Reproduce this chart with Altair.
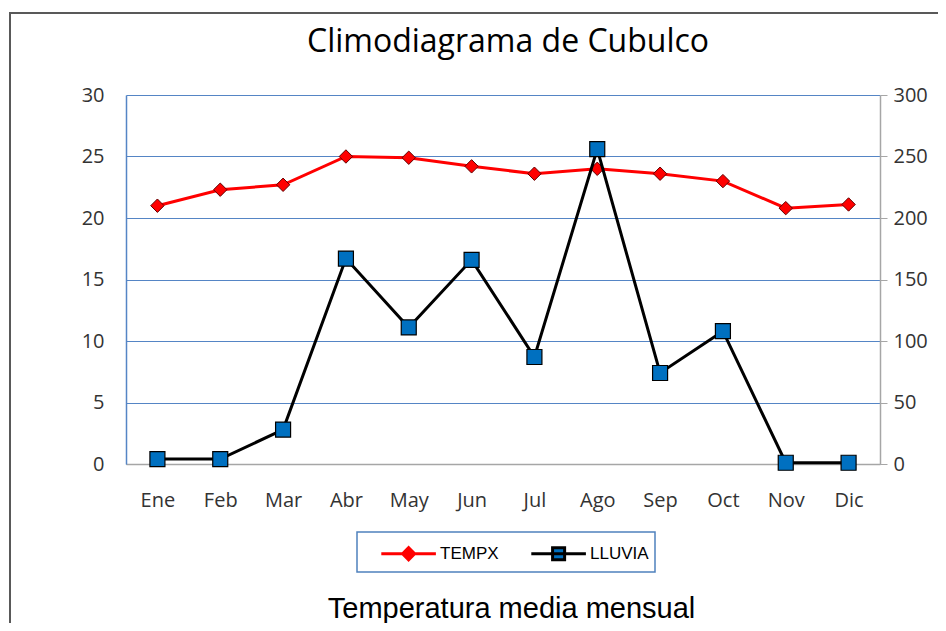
import altair as alt
import pandas as pd

months = ["Ene", "Feb", "Mar", "Abr", "May", "Jun", "Jul", "Ago", "Sep", "Oct", "Nov", "Dic"]
tempx = [21.0, 22.3, 22.7, 25.0, 24.9, 24.2, 23.6, 24.0, 23.6, 23.0, 20.8, 21.1]
lluvia = [4, 4, 28, 167, 111, 166, 87, 256, 74, 108, 1, 1]
series = ["TEMPX", "LLUVIA"]
series_stroke = ["#ff0000", "#000000"]
series_fill = ["#ff0000", "#0070c0"]
legend_shapes = [
    "M0.2,0H4.1M1.72,0L2.15,-0.43L2.58,0L2.15,0.43Z",
    "M0.2,0H4.1M1.72,-0.43H2.58V0.43H1.72Z",
]

df = pd.DataFrame({"mes": months, "temp": tempx, "lluvia": lluvia})
df_leg = pd.DataFrame({"serie": series})

FONT = "Open Sans"
GRID = "#5585c5"
xenc = alt.X(
    "mes:O",
    sort=months,
    axis=alt.Axis(
        title="Temperatura media mensual",
        titleFont="Liberation Sans Narrow, Liberation Sans",
        titleFontSize=29,
        titleFontWeight="normal",
        titleColor="#000000",
        titleBaseline="middle",
        titleAlign="center",
        titleX=385,
        titleY=144,
        labelAngle=0,
        labelFont=FONT,
        labelFontSize=20,
        labelColor="#333333",
        labelPadding=26,
        ticks=False,
        domainColor="#a6a6a6",
        domainWidth=1.5,
    ),
)

y_temp = alt.Y(
    "temp:Q",
    scale=alt.Scale(domain=[0, 30]),
    axis=alt.Axis(
        title=None,
        values=[0, 5, 10, 15, 20, 25, 30],
        grid=True,
        gridColor=GRID,
        gridWidth=1.2,
        ticks=False,
        domainColor=GRID,
        domainWidth=1.5,
        labelFont=FONT,
        labelFontSize=20,
        labelColor="#333333",
        labelPadding=22,
    ),
)

y_rain = alt.Y(
    "lluvia:Q",
    scale=alt.Scale(domain=[0, 300]),
    axis=alt.Axis(
        title=None,
        orient="right",
        values=[0, 50, 100, 150, 200, 250, 300],
        grid=False,
        ticks=True,
        tickSize=7,
        tickColor="#a6a6a6",
        domainColor="#a6a6a6",
        domainWidth=1.5,
        labelFont=FONT,
        labelFontSize=20,
        labelColor="#333333",
        labelPadding=6,
    ),
)

base = alt.Chart(df)

frame = alt.Chart(pd.DataFrame({"k": [0]})).mark_rect(
    filled=False, stroke="#595959", strokeWidth=2
).encode(
    x=alt.value(-116), x2=alt.value(900), y=alt.value(-82), y2=alt.value(700)
)

temp_line = base.mark_line(color="#ff0000", strokeWidth=3).encode(x=xenc, y=y_temp)
temp_pts = base.mark_point(
    shape="diamond", filled=True, fill="#ff0000", stroke="#600000", strokeWidth=1, size=180, opacity=1
).encode(x=alt.X("mes:O", sort=months), y="temp:Q")

legend_layer = alt.Chart(df_leg).mark_point(filled=True, strokeWidth=3, opacity=1).encode(
    shape=alt.Shape("serie:N", scale=alt.Scale(domain=series, range=legend_shapes),
                    legend=alt.Legend(title=None)),
    fill=alt.Fill("serie:N", scale=alt.Scale(domain=series, range=series_fill), legend=alt.Legend(title=None)),
    stroke=alt.Stroke("serie:N", scale=alt.Scale(domain=series, range=series_stroke), legend=alt.Legend(title=None)),
).transform_filter("false")

rain_line = base.mark_line(color="#000000", strokeWidth=3).encode(x=alt.X("mes:O", sort=months), y=y_rain)
rain_pts = base.mark_point(
    shape="square", filled=True, fill="#0070c0", stroke="#000000", strokeWidth=1.2, size=225, opacity=1
).encode(x=alt.X("mes:O", sort=months), y="lluvia:Q")

temp_group = alt.layer(temp_line, temp_pts, legend_layer)
rain_group = alt.layer(rain_line, rain_pts)

chart = alt.layer(frame, temp_group, rain_group).resolve_scale(
    y="independent"
).properties(
    width=754,
    height=369,
    autosize=alt.AutoSizeParams(type="none"),
    padding={"left": 118, "top": 87, "right": 58, "bottom": 159},
    title=alt.TitleParams(
        "Climodiagrama de Cubulco",
        font=FONT,
        fontSize=32,
        fontWeight="normal",
        color="#000000",
        anchor="middle",
        frame="group",
        offset=-47,
        dx=5,
    ),
).configure_view(stroke=None).configure_legend(
    orient="none",
    legendX=231,
    legendY=437,
    direction="horizontal",
    strokeColor="#4f81bd",
    strokeWidth=1.5,
    fillColor="#ffffff",
    padding=6,
    symbolSize=784,
    symbolStrokeWidth=3,
    labelFont="Liberation Sans Narrow, Liberation Sans",
    labelFontSize=17,
    labelColor="#000000",
    columnPadding=14,
    labelOffset=46,
)

chart.save("out.html", embed_options={"renderer": "svg", "actions": False})
